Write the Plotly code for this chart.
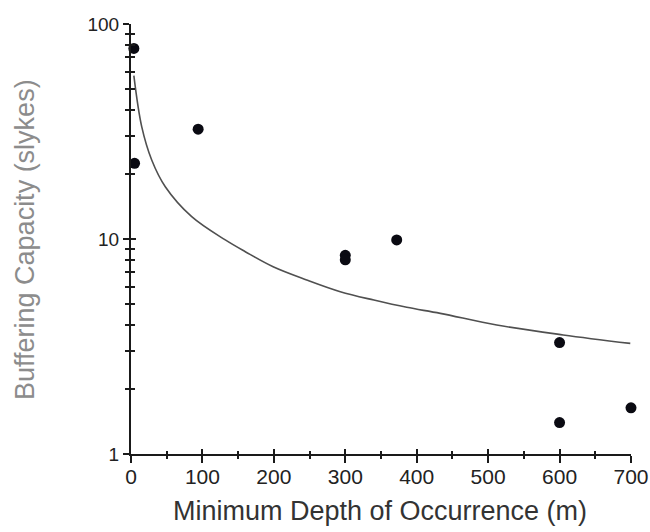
import plotly.graph_objects as go

# Observed data points
depth = [4, 5, 94, 300, 300, 372, 600, 600, 700]
buffering = [77, 22.5, 32.4, 8.4, 8.0, 9.9, 3.3, 1.4, 1.64]

# Fitted curve
curve_x = [4, 15, 29, 48, 85, 132, 160, 199, 246, 293, 340, 386, 433, 512, 605, 699]
curve_y = [57.5, 33.3, 23.3, 17.5, 12.7, 9.9, 8.73, 7.43, 6.45, 5.69, 5.20, 4.81, 4.51, 3.98, 3.58, 3.27]

x_ticks = [0, 100, 200, 300, 400, 500, 600, 700]
x_minor = [50, 150, 250, 350, 450, 550, 650]
y_ticks = [1, 10, 100]
y_minor = [2, 3, 4, 5, 6, 7, 8, 9, 20, 30, 40, 50, 60, 70, 80, 90]

FONT = "Liberation Sans, Arial, sans-serif"
AX = "#1a1a1a"

fig = go.Figure()
fig.add_trace(go.Scatter(
    x=curve_x, y=curve_y, mode="lines", xaxis="x2", yaxis="y2",
    line=dict(color="#505050", width=1.6, shape="spline", smoothing=1.0), hoverinfo="skip"))
fig.add_trace(go.Scatter(
    x=depth, y=buffering, mode="markers", cliponaxis=False,
    marker=dict(color="#0a0a12", size=11, line=dict(width=0))))

xr = [0, 700]
yr = [0, 2]
common_x = dict(range=xr, showgrid=False, zeroline=False, fixedrange=True, automargin=False)
common_y = dict(type="log", range=yr, showgrid=False, zeroline=False, fixedrange=True, automargin=False)

fig.update_layout(
    width=650, height=532,
    margin=dict(l=131, r=19, t=24, b=78, autoexpand=False),
    paper_bgcolor="white", plot_bgcolor="white",
    showlegend=False,
    font=dict(family=FONT, color="#222"),
    xaxis=dict(**common_x, tickvals=x_ticks, ticks="outside", ticklen=7, tickwidth=1.5,
               tickcolor=AX, showline=True, linecolor=AX, linewidth=2,
               ticklabelstandoff=-4,
               tickfont=dict(size=21, color="#222"),
               minor=dict(tickvals=x_minor, ticks="outside", ticklen=3, tickwidth=1.5, tickcolor=AX)),
    xaxis2=dict(**common_x, overlaying="x", side="bottom", tickvals=x_ticks, ticks="inside",
                ticklen=5, tickwidth=1.5, tickcolor=AX, showticklabels=False, showline=False,
                minor=dict(tickvals=x_minor, ticks="inside", ticklen=3, tickwidth=1.5, tickcolor=AX)),
    yaxis=dict(**common_y, tickvals=y_ticks, ticktext=["1", "10", "100"], ticks="outside",
               ticklen=6, tickwidth=1.5, tickcolor=AX, showline=True, linecolor=AX, linewidth=2,
               tickfont=dict(size=19, color="#222"),
               minor=dict(tickvals=y_minor, ticks="outside", ticklen=4, tickwidth=1.5, tickcolor=AX)),
    yaxis2=dict(**common_y, overlaying="y", side="left", tickvals=y_ticks, ticks="inside",
                ticklen=5, tickwidth=1.5, tickcolor=AX, showticklabels=False, showline=False,
                minor=dict(tickvals=y_minor, ticks="inside", ticklen=4, tickwidth=1.5, tickcolor=AX)),
    annotations=[
        dict(text="Minimum Depth of Occurrence (m)", xref="paper", yref="paper",
             x=(380 - 131) / 500, y=(454 - 511) / 430, xanchor="center", yanchor="middle",
             showarrow=False, font=dict(size=27, color="#333", family=FONT)),
        dict(text="Buffering Capacity (slykes)", xref="paper", yref="paper",
             x=(25 - 131) / 500, y=(454 - 240) / 430, xanchor="center", yanchor="middle",
             textangle=-90, showarrow=False, font=dict(size=27, color="#8c8c8c", family=FONT)),
    ],
)

fig.write_html("out.html")
